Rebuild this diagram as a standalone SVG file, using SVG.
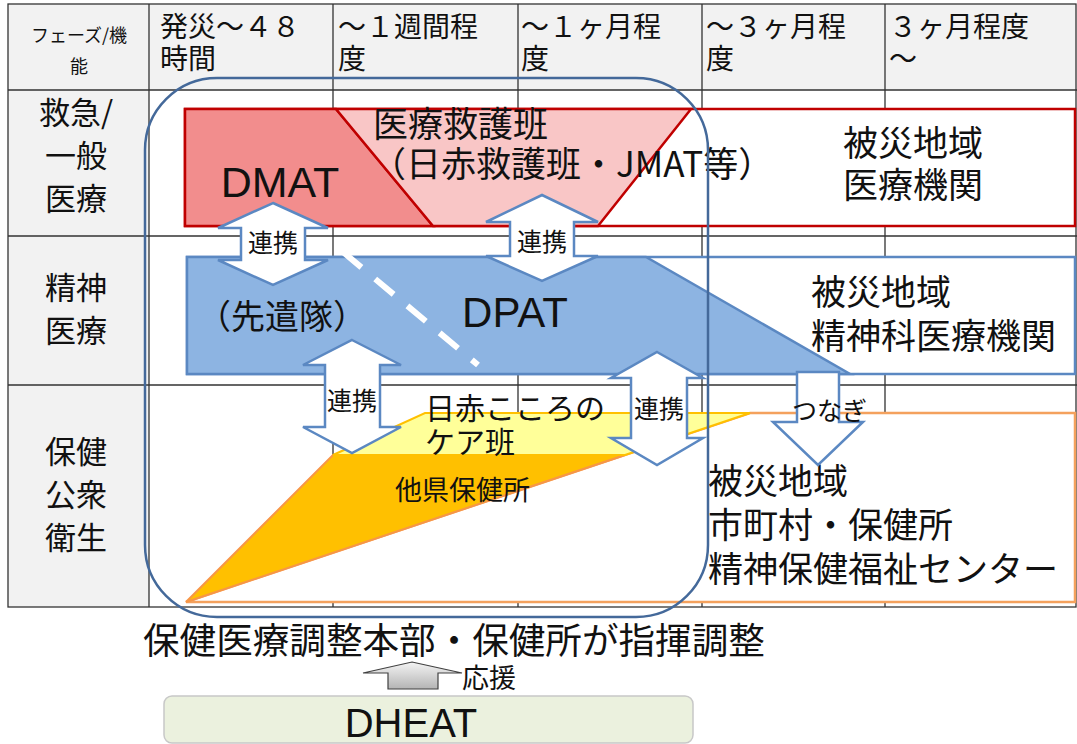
<svg xmlns="http://www.w3.org/2000/svg" width="1077" height="744" viewBox="0 0 1077 744">
<defs>
<style>
text{font-family:"Noto Sans CJK JP","Noto Sans CJK SC",sans-serif;fill:#111}
.lat{font-family:"Liberation Sans",Arial,sans-serif}
.grid{stroke:#333;stroke-width:1.3;fill:none}
.arw{fill:#fff;stroke:#5b88c2;stroke-width:2.5;stroke-linejoin:miter}
.hd{font-size:28px}
.rl{font-size:31px;text-anchor:middle}
.big{font-size:35px}
.lk{font-size:25px;text-anchor:middle}
</style>
<linearGradient id="gg" x1="0" y1="0" x2="0" y2="1">
<stop offset="0" stop-color="#f4f4f4"/>
<stop offset="1" stop-color="#b4b4b4"/>
</linearGradient>
</defs>
<rect width="1077" height="744" fill="#fff"/>
<g id="table">
<rect x="8" y="4" width="1069" height="86" fill="#f2f2f2"/>
<rect x="8" y="90" width="141" height="517" fill="#f2f2f2"/>
<rect x="8" y="4" width="1068" height="603" class="grid"/>
<path class="grid" d="M8 90H1077M8 236H1077M8 385H1077M149 4V607M333 4V607M518 4V607M702 4V607M885 4V607"/>
<text x="79" y="42" font-size="18" text-anchor="middle">フェーズ/機</text>
<text x="79" y="73" font-size="18" text-anchor="middle">能</text>
<text class="hd" x="160" y="37">発災～４８</text>
<text class="hd" x="160" y="69">時間</text>
<text class="hd" x="338" y="37">～１週間程</text>
<text class="hd" x="338" y="69">度</text>
<text class="hd" x="521" y="37">～１ヶ月程</text>
<text class="hd" x="521" y="69">度</text>
<text class="hd" x="706" y="37">～３ヶ月程</text>
<text class="hd" x="706" y="69">度</text>
<text class="hd" x="889" y="37">３ヶ月程度</text>
<text class="hd" x="889" y="69">～</text>
<text class="rl" x="76" y="124">救急/</text>
<text class="rl" x="76" y="167">一般</text>
<text class="rl" x="76" y="210">医療</text>
<text class="rl" x="76" y="299">精神</text>
<text class="rl" x="76" y="342">医療</text>
<text class="rl" x="76" y="463">保健</text>
<text class="rl" x="76" y="506">公衆</text>
<text class="rl" x="76" y="549">衛生</text>
</g>
<g id="emergency-band">
<rect x="185" y="109" width="890" height="117" fill="#fff" stroke="#c00000" stroke-width="2.5"/>
<polygon points="185,109 336,109 433,226 185,226" fill="#f28d8d" stroke="#c00000" stroke-width="2.5"/>
<polygon points="336,109 691,109 598,226 433,226" fill="#f9c6c6" stroke="#c00000" stroke-width="2.5"/>
<text class="lat" x="280" y="197" font-size="43" text-anchor="middle">DMAT</text>
<text x="373" y="137" font-size="35">医療救護班</text>
<text x="371" y="177" font-size="35">（日赤救護班・JMAT等）</text>
<text class="big" x="843" y="156">被災地域</text>
<text class="big" x="843" y="198">医療機関</text>
</g>
<g id="psychiatric-band">
<rect x="187" y="257" width="888" height="117" fill="#fff" stroke="#5b88c2" stroke-width="2.5"/>
<polygon points="187,257 646,257 850,374 187,374" fill="#8db4e2" stroke="#5b88c2" stroke-width="2.5"/>
<line x1="343" y1="252" x2="478" y2="365" stroke="#fff" stroke-width="6" stroke-dasharray="24 18"/>
<text x="197" y="329" font-size="34">（先遣隊）</text>
<text class="lat" x="515" y="327" font-size="42" text-anchor="middle">DPAT</text>
<text class="big" x="811" y="305">被災地域</text>
<text class="big" x="811" y="349">精神科医療機関</text>
</g>
<g id="public-health-band">
<polygon points="186,602 750,413 1075,413 1075,602" fill="#fff" stroke="#f4a15d" stroke-width="2.5"/>
<polygon points="186,602 333,455 625,455" fill="#ffc000" stroke="#f79646" stroke-width="2"/>
<polygon points="333,455 425,413 750,413 625,455" fill="#ffff99" stroke="#ffc000" stroke-width="2"/>
<text x="395" y="500" font-size="27">他県保健所</text>
<text x="425" y="419" font-size="30">日赤こころの</text>
<text x="425" y="453" font-size="30">ケア班</text>
<text class="big" x="708" y="494">被災地域</text>
<text class="big" x="708" y="538">市町村・保健所</text>
<text class="big" x="708" y="582">精神保健福祉センター</text>
</g>
<g id="connectors">
<polygon class="arw" points="273,203 328,228 305,228 305,260 328,260 273,285 218,260 241,260 241,228 218,228"/>
<polygon class="arw" points="542,195 598,222 574,222 574,256 598,256 542,281 486,256 510,256 510,222 486,222"/>
<polygon class="arw" points="352,340 401,365 380,365 380,427 401,427 352,453 303,427 325,427 325,365 303,365"/>
<polygon class="arw" points="657,352 703,378 687,378 687,438 703,438 657,465 611,438 631,438 631,378 611,378"/>
<polygon class="arw" points="797,372 839,372 839,422 863,422 818,465 773,422 797,422"/>
<polygon points="412,662 462,673 438,673 438,689 388,689 388,673 363,673" fill="url(#gg)" stroke="#404040" stroke-width="1.2"/>
</g>
<g id="labels">
<text class="lk" x="273" y="252">連携</text>
<text class="lk" x="542" y="251">連携</text>
<text class="lk" x="352" y="410">連携</text>
<text class="lk" x="659" y="418">連携</text>
<text x="792" y="420" font-size="25">つなぎ</text>
</g>
<g id="command-area">
<rect x="145" y="78" width="563" height="539" rx="72" ry="72" fill="none" stroke="#44699a" stroke-width="2.5"/>
<text x="143" y="654" font-size="36.6">保健医療調整本部・保健所が指揮調整</text>
<text x="462" y="688" font-size="27">応援</text>
</g>
<g id="dheat">
<rect x="164" y="696" width="529" height="47" rx="8" fill="#ebf1de" stroke="#c8c8c8" stroke-width="1.5"/>
<text class="lat" x="411" y="737" font-size="40" text-anchor="middle">DHEAT</text>
</g>
</svg>
